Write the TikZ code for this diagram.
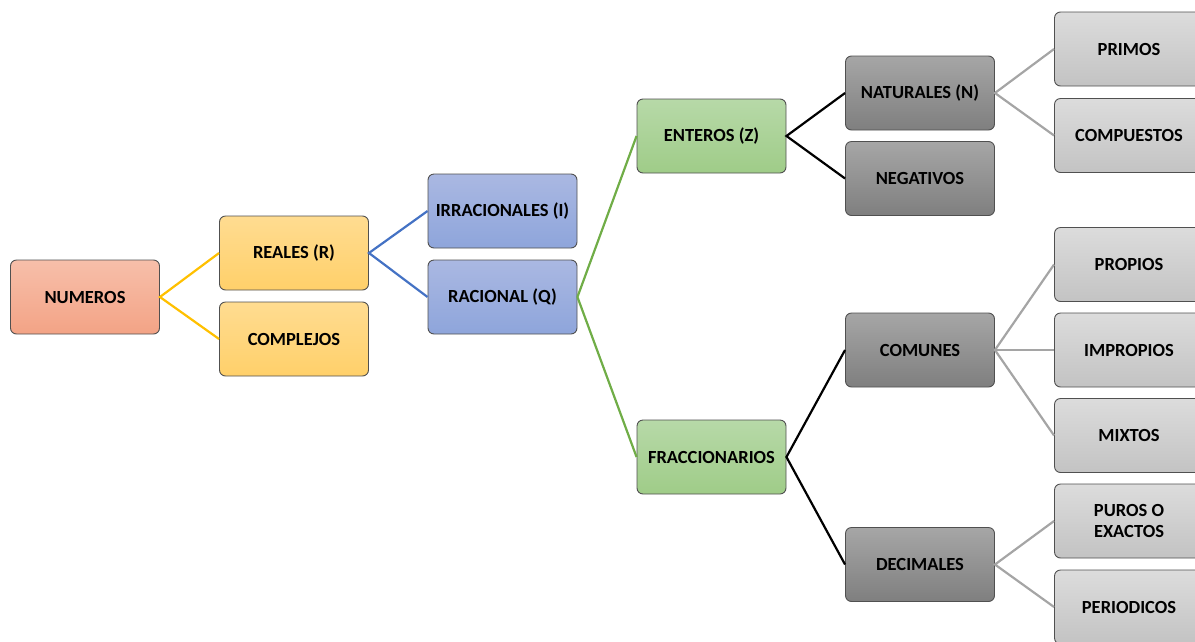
\documentclass[tikz,border=0pt]{standalone}
\usepackage{fontspec}
\setmainfont{Carlito}
\definecolor{oT}{HTML}{F7BFAA}\definecolor{oB}{HTML}{F3A385}
\definecolor{yT}{HTML}{FFDC91}\definecolor{yB}{HTML}{FFD06A}
\definecolor{bT}{HTML}{AAB8E2}\definecolor{bB}{HTML}{8EA5DB}
\definecolor{gT}{HTML}{B7D9A8}\definecolor{gB}{HTML}{9FCC88}
\definecolor{dT}{HTML}{A6A6A6}\definecolor{dB}{HTML}{7F7F7F}
\definecolor{lT}{HTML}{DCDCDC}\definecolor{lB}{HTML}{C3C3C3}
\definecolor{edgeY}{HTML}{FFC000}
\definecolor{edgeB}{HTML}{4472C4}
\definecolor{edgeG}{HTML}{70AD47}
\definecolor{edgeL}{HTML}{A5A5A5}
\definecolor{bord}{HTML}{505050}
\tikzset{
  box/.style={rectangle, rounded corners=6pt, minimum width=149pt, minimum height=74pt,
    draw=bord, line width=0.9pt, font=\fontsize{18.5}{21}\selectfont\bfseries, align=center, inner sep=2pt},
  orangebox/.style={box, top color=oT, bottom color=oB},
  goldbox/.style={box, top color=yT, bottom color=yB},
  bluebox/.style={box, top color=bT, bottom color=bB},
  greenbox/.style={box, top color=gT, bottom color=gB},
  darkbox/.style={box, top color=dT, bottom color=dB},
  lightbox/.style={box, top color=lT, bottom color=lB},
  link/.style={line width=2.2pt},
}
\begin{document}
\begin{tikzpicture}[x=1pt,y=-1pt]
\useasboundingbox (0,0) rectangle (1195,641);
\node[orangebox] (num) at (85,297) {NUMEROS};
\node[goldbox] (rea) at (294,253) {REALES (R)};
\node[goldbox] (com) at (294,339) {COMPLEJOS};
\node[bluebox] (irr) at (502.5,211) {IRRACIONALES (I)};
\node[bluebox] (rac) at (502.5,297) {RACIONAL (Q)};
\node[greenbox] (ent) at (711.5,136) {ENTEROS (Z)};
\node[greenbox] (fra) at (711.5,457) {FRACCIONARIOS};
\node[darkbox] (nat) at (920,93) {NATURALES (N)};
\node[darkbox] (neg) at (920,178.5) {NEGATIVOS};
\node[darkbox] (cmn) at (920,350) {COMUNES};
\node[darkbox] (dec) at (920,564.5) {DECIMALES};
\node[lightbox] (pri) at (1129,49) {PRIMOS};
\node[lightbox] (cmp) at (1129,135.5) {COMPUESTOS};
\node[lightbox] (pro) at (1129,264.5) {PROPIOS};
\node[lightbox] (imp) at (1129,350) {IMPROPIOS};
\node[lightbox] (mix) at (1129,435.5) {MIXTOS};
\node[lightbox] (pur) at (1129,521) {PUROS O\\EXACTOS};
\node[lightbox] (per) at (1129,607) {PERIODICOS};
\draw[link, edgeY] (rea.west) -- (num.east) -- (com.west);
\draw[link, edgeB] (irr.west) -- (rea.east) -- (rac.west);
\draw[link, edgeG] (ent.west) -- (rac.east) -- (fra.west);
\draw[link, black] (nat.west) -- (ent.east) -- (neg.west);
\draw[link, black] (cmn.west) -- (fra.east) -- (dec.west);
\draw[link, edgeL] (pri.west) -- (nat.east) -- (cmp.west);
\draw[link, edgeL] (pro.west) -- (cmn.east) -- (mix.west);
\draw[link, edgeL] (cmn.east) -- (imp.west);
\draw[link, edgeL] (pur.west) -- (dec.east) -- (per.west);
\end{tikzpicture}
\end{document}
